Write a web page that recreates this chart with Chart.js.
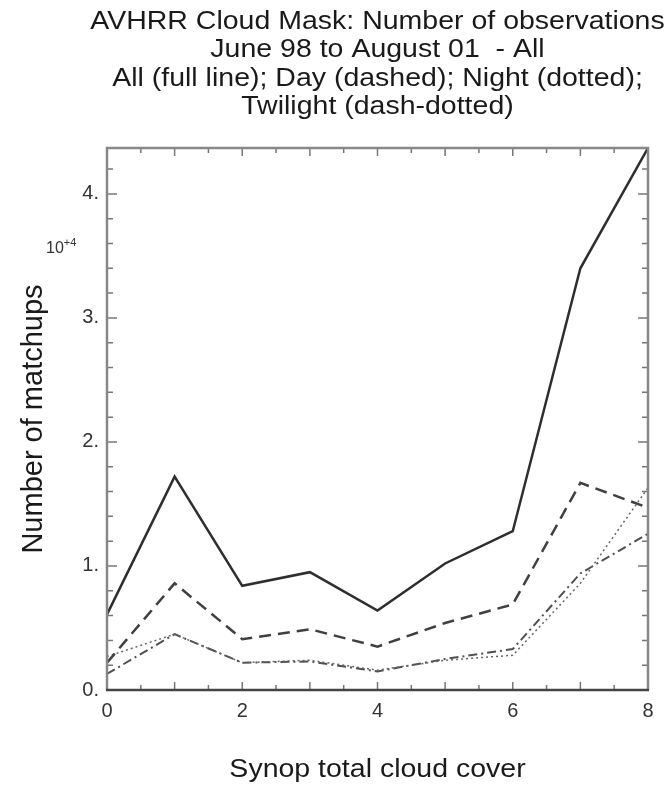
<!DOCTYPE html>
<html>
<head>
<meta charset="utf-8">
<script src="https://cdn.jsdelivr.net/npm/chart.js@4/dist/chart.umd.min.js"></script>
<style>
  body { margin: 0; background: #fff; }
  #wrap { width: 670px; height: 785px; }
</style>
</head>
<body>
<div id="wrap"><canvas id="cloudChart" width="670" height="785"></canvas></div>
<script>
// synop total cloud cover (octas)
const cloudCover = [0, 1, 2, 3, 4, 5, 6, 7, 8];

// number of matchups, in units of 10^4
const allObs   = [0.61, 1.72, 0.84, 0.95, 0.64, 1.02, 1.28, 3.40, 4.37];
const dayObs   = [0.22, 0.86, 0.41, 0.49, 0.35, 0.54, 0.69, 1.67, 1.47];
const nightObs = [0.27, 0.45, 0.22, 0.24, 0.16, 0.24, 0.28, 0.86, 1.63];
const twiObs   = [0.13, 0.45, 0.22, 0.23, 0.15, 0.25, 0.33, 0.94, 1.26];

const titleLines = [
  "AVHRR Cloud Mask: Number of observations",
  "June 98 to August 01  - All",
  "All (full line); Day (dashed); Night (dotted);",
  "Twilight (dash-dotted)"
];
const xTitle = "Synop total cloud cover";
const yTitle = "Number of matchups";

const xMin = 0, xMax = 8;
const yMin = 0, yMax = 4.37;

const FONT = "'Liberation Sans', Arial, Helvetica, sans-serif";
const WIDE = 1.14;   // the plot's lettering is a little wider than Arial

function toPoints(values) {
  return cloudCover.map((c, i) => ({ x: c, y: values[i] }));
}

function wideText(ctx, text, x, y) {
  ctx.save();
  ctx.translate(x, y);
  ctx.scale(WIDE, 1);
  ctx.fillText(text, 0, 0);
  ctx.restore();
}

// frame, inward ticks on all four sides, titles and the 10^4 exponent
const framePlugin = {
  id: 'frame',
  afterDraw: function (chart) {
    const ctx = chart.ctx;
    const area = chart.chartArea;
    const xs = chart.scales.x;
    const ys = chart.scales.y;

    ctx.save();

    // inward ticks
    ctx.strokeStyle = '#777';
    ctx.lineWidth = 1.5;
    ctx.beginPath();
    for (let v = xMin; v <= xMax + 1e-9; v += 0.5) {
      const px = xs.getPixelForValue(v);
      const len = (Math.abs(v % 1) < 1e-9) ? 8 : 5;
      ctx.moveTo(px, area.bottom);
      ctx.lineTo(px, area.bottom - len);
      ctx.moveTo(px, area.top);
      ctx.lineTo(px, area.top + len);
    }
    for (let k = 0; k * 0.2 <= yMax + 1e-9; k++) {
      const py = ys.getPixelForValue(k * 0.2);
      const len = (k % 5 === 0) ? 10 : 6;
      ctx.moveTo(area.left, py);
      ctx.lineTo(area.left + len, py);
      ctx.moveTo(area.right, py);
      ctx.lineTo(area.right - len, py);
    }
    ctx.stroke();

    // box
    ctx.lineWidth = 2.5;
    ctx.strokeStyle = '#888';
    ctx.beginPath();
    ctx.moveTo(area.left, area.bottom);
    ctx.lineTo(area.left, area.top);
    ctx.lineTo(area.right, area.top);
    ctx.lineTo(area.right, area.bottom);
    ctx.stroke();
    ctx.strokeStyle = '#444';
    ctx.beginPath();
    ctx.moveTo(area.left - 1, area.bottom);
    ctx.lineTo(area.right + 1, area.bottom);
    ctx.stroke();

    // title
    ctx.fillStyle = '#1a1a1a';
    ctx.textAlign = 'center';
    ctx.textBaseline = 'middle';
    ctx.font = '25px ' + FONT;
    const cx = (area.left + area.right) / 2;
    titleLines.forEach(function (line, i) {
      wideText(ctx, line, cx, 22 + i * 28.5);
    });

    // axis titles
    wideText(ctx, xTitle, cx, 770);
    ctx.save();
    ctx.translate(34, (area.top + area.bottom) / 2);
    ctx.rotate(-Math.PI / 2);
    ctx.font = '29px ' + FONT;
    ctx.fillText(yTitle, 0, 0);
    ctx.restore();

    // exponent of the y axis
    ctx.textAlign = 'left';
    ctx.textBaseline = 'alphabetic';
    ctx.fillStyle = '#333';
    ctx.font = '16px ' + FONT;
    ctx.fillText('10', 46, 253);
    const w = ctx.measureText('10').width;
    ctx.font = '11px ' + FONT;
    ctx.fillText('+4', 46 + w, 246);

    ctx.restore();
  }
};

const ctx = document.getElementById('cloudChart').getContext('2d');

const cloudChart = new Chart(ctx, {
  type: 'line',
  data: {
    datasets: [
      {
        label: 'All',
        data: toPoints(allObs),
        borderColor: '#2e2e2e',
        borderWidth: 2.5
      },
      {
        label: 'Day',
        data: toPoints(dayObs),
        borderColor: '#404040',
        borderWidth: 2.5,
        borderDash: [12, 7]
      },
      {
        label: 'Night',
        data: toPoints(nightObs),
        borderColor: '#666',
        borderWidth: 1.5,
        borderDash: [2, 3]
      },
      {
        label: 'Twilight',
        data: toPoints(twiObs),
        borderColor: '#505050',
        borderWidth: 2,
        borderDash: [9, 4, 2, 4]
      }
    ]
  },
  options: {
    responsive: false,
    animation: false,
    devicePixelRatio: 1,
    elements: {
      point: { radius: 0 },
      line: { tension: 0, fill: false, borderCapStyle: 'butt' }
    },
    layout: {
      padding: { top: 148, right: 22, left: 0, bottom: 0 }
    },
    plugins: {
      legend: { display: false },
      tooltip: { enabled: false }
    },
    scales: {
      x: {
        type: 'linear',
        min: xMin,
        max: xMax,
        grid: { display: false, drawTicks: false },
        border: { display: false },
        ticks: {
          stepSize: 2,
          padding: 9,
          color: '#333',
          font: { family: FONT, size: 20 }
        },
        afterFit: function (scale) {
          scale.height = 785 - 690;
        }
      },
      y: {
        type: 'linear',
        min: yMin,
        max: yMax,
        grid: { display: false, drawTicks: false },
        border: { display: false },
        ticks: {
          stepSize: 1,
          includeBounds: false,
          padding: 8,
          color: '#333',
          font: { family: FONT, size: 20 },
          callback: function (value) {
            return value + '.';
          }
        },
        afterFit: function (scale) {
          scale.width = 107;
        }
      }
    }
  },
  plugins: [framePlugin]
});
</script>
</body>
</html>
